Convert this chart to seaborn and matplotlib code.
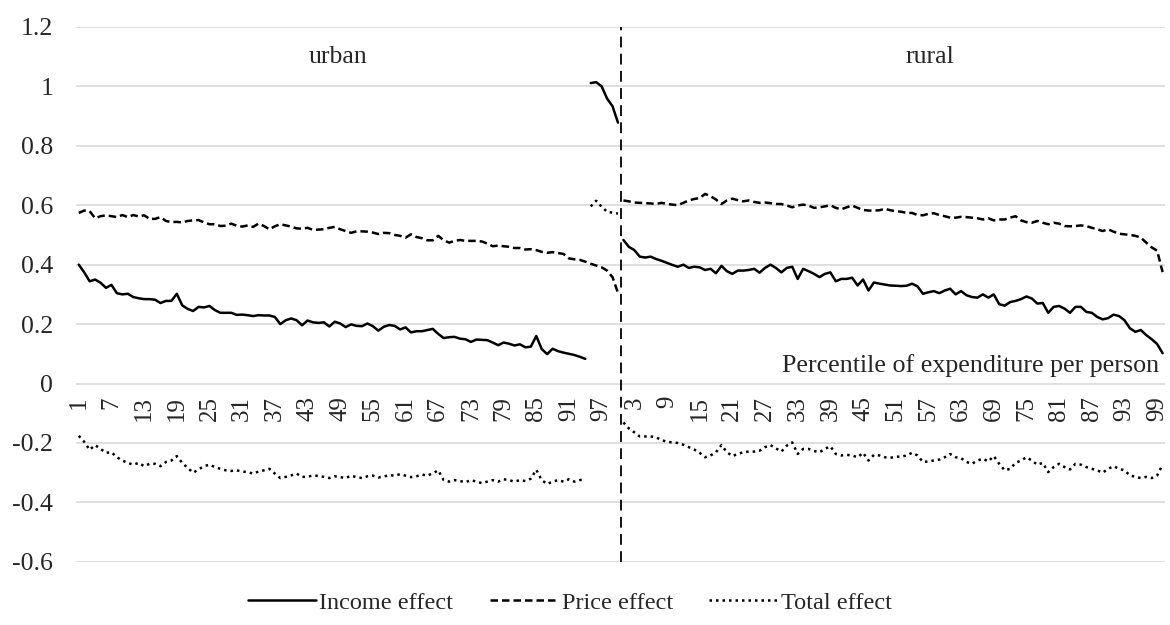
import pandas as pd
import seaborn as sns
import matplotlib.pyplot as plt

# ===============================
# Datos
# ===============================
percentiles = list(range(1, 101))

urban_income = [
    0.400, 0.374, 0.344, 0.350, 0.339, 0.322, 0.332, 0.304, 0.300, 0.302,
    0.291, 0.287, 0.284, 0.284, 0.282, 0.271, 0.278, 0.278, 0.302, 0.263,
    0.251, 0.244, 0.258, 0.256, 0.261, 0.247, 0.238, 0.238, 0.238, 0.231,
    0.232, 0.230, 0.227, 0.230, 0.229, 0.229, 0.224, 0.200, 0.213, 0.219,
    0.213, 0.196, 0.212, 0.206, 0.204, 0.206, 0.192, 0.208, 0.202, 0.190,
    0.199, 0.194, 0.193, 0.202, 0.193, 0.178, 0.191, 0.197, 0.194, 0.182,
    0.189, 0.172, 0.176, 0.176, 0.180, 0.184, 0.167, 0.153, 0.156, 0.157,
    0.151, 0.149, 0.140, 0.148, 0.147, 0.146, 0.138, 0.129, 0.138, 0.134,
    0.128, 0.132, 0.122, 0.124, 0.160, 0.116, 0.099, 0.117, 0.109, 0.104,
    0.100, 0.096, 0.090, 0.083,
]
urban_income_top = [1.011, 1.014, 1.000, 0.959, 0.933, 0.878]  # pct 95-100

urban_price = [
    0.574, 0.582, 0.580, 0.556, 0.563, 0.566, 0.563, 0.560, 0.567, 0.560,
    0.567, 0.562, 0.566, 0.554, 0.554, 0.560, 0.547, 0.543, 0.544, 0.542,
    0.547, 0.549, 0.550, 0.542, 0.536, 0.536, 0.530, 0.531, 0.538, 0.531,
    0.528, 0.532, 0.527, 0.538, 0.530, 0.519, 0.529, 0.536, 0.532, 0.528,
    0.522, 0.521, 0.524, 0.517, 0.518, 0.519, 0.524, 0.527, 0.519, 0.513,
    0.507, 0.512, 0.512, 0.511, 0.508, 0.503, 0.507, 0.506, 0.500, 0.497,
    0.491, 0.502, 0.493, 0.489, 0.482, 0.482, 0.497, 0.482, 0.474, 0.480,
    0.483, 0.480, 0.480, 0.480, 0.478, 0.471, 0.462, 0.464, 0.462, 0.460,
    0.456, 0.456, 0.451, 0.452, 0.449, 0.443, 0.440, 0.442, 0.439, 0.436,
    0.421, 0.418, 0.416, 0.410, 0.403, 0.397, 0.391, 0.380, 0.358, 0.305,
]

urban_total = [
    -0.176, -0.196, -0.223, -0.207, -0.220, -0.233, -0.231, -0.248, -0.259, -0.267,
    -0.273, -0.267, -0.278, -0.270, -0.270, -0.278, -0.264, -0.259, -0.244, -0.267,
    -0.284, -0.300, -0.289, -0.278, -0.273, -0.281, -0.287, -0.292, -0.294, -0.292,
    -0.296, -0.298, -0.303, -0.296, -0.292, -0.287, -0.303, -0.318, -0.314, -0.309,
    -0.303, -0.314, -0.314, -0.309, -0.311, -0.314, -0.318, -0.312, -0.315, -0.318,
    -0.310, -0.315, -0.318, -0.312, -0.310, -0.316, -0.313, -0.308, -0.310, -0.305,
    -0.310, -0.315, -0.312, -0.306, -0.310, -0.302, -0.292, -0.325, -0.330, -0.325,
    -0.328, -0.332, -0.325, -0.330, -0.335, -0.330, -0.325, -0.330, -0.322, -0.325,
    -0.330, -0.325, -0.328, -0.320, -0.290, -0.325, -0.338, -0.330, -0.325, -0.330,
    -0.322, -0.330, -0.325, -0.322,
]
urban_total_top = [0.596, 0.615, 0.595, 0.578, 0.575, 0.572]  # pct 95-100

rural_income = [
    0.483, 0.460, 0.449, 0.427, 0.424, 0.427, 0.419, 0.413, 0.406, 0.399,
    0.393, 0.400, 0.389, 0.393, 0.391, 0.382, 0.386, 0.371, 0.396, 0.378,
    0.369, 0.380, 0.380, 0.382, 0.386, 0.373, 0.389, 0.400, 0.389, 0.374,
    0.389, 0.393, 0.352, 0.386, 0.378, 0.369, 0.358, 0.369, 0.374, 0.344,
    0.352, 0.352, 0.356, 0.330, 0.350, 0.313, 0.340, 0.336, 0.333, 0.330,
    0.329, 0.328, 0.329, 0.336, 0.327, 0.302, 0.307, 0.311, 0.304, 0.313,
    0.319, 0.300, 0.311, 0.297, 0.291, 0.289, 0.300, 0.289, 0.300, 0.267,
    0.262, 0.274, 0.278, 0.284, 0.293, 0.286, 0.269, 0.271, 0.238, 0.258,
    0.261, 0.252, 0.238, 0.258, 0.258, 0.241, 0.238, 0.224, 0.216, 0.220,
    0.232, 0.227, 0.213, 0.186, 0.174, 0.180, 0.163, 0.149, 0.133, 0.102,
]

rural_price = [
    0.616, 0.613, 0.609, 0.608, 0.607, 0.606, 0.604, 0.608, 0.604, 0.602,
    0.600, 0.608, 0.616, 0.621, 0.624, 0.638, 0.630, 0.619, 0.604, 0.616,
    0.622, 0.617, 0.613, 0.616, 0.611, 0.608, 0.609, 0.607, 0.604, 0.604,
    0.599, 0.593, 0.599, 0.602, 0.599, 0.591, 0.593, 0.596, 0.600, 0.591,
    0.586, 0.593, 0.599, 0.591, 0.584, 0.582, 0.582, 0.583, 0.588, 0.583,
    0.580, 0.578, 0.574, 0.574, 0.567, 0.566, 0.571, 0.573, 0.567, 0.563,
    0.558, 0.558, 0.561, 0.560, 0.558, 0.556, 0.552, 0.556, 0.549, 0.552,
    0.552, 0.558, 0.563, 0.549, 0.543, 0.541, 0.547, 0.541, 0.536, 0.541,
    0.538, 0.530, 0.529, 0.530, 0.532, 0.530, 0.524, 0.519, 0.513, 0.519,
    0.511, 0.504, 0.502, 0.500, 0.497, 0.491, 0.474, 0.458, 0.447, 0.375,
]

rural_total = [
    -0.131, -0.151, -0.164, -0.178, -0.178, -0.178, -0.181, -0.190, -0.196, -0.198,
    -0.200, -0.206, -0.214, -0.222, -0.233, -0.248, -0.242, -0.231, -0.207, -0.231,
    -0.244, -0.237, -0.231, -0.229, -0.229, -0.226, -0.214, -0.207, -0.218, -0.229,
    -0.209, -0.198, -0.237, -0.220, -0.220, -0.227, -0.231, -0.220, -0.211, -0.237,
    -0.242, -0.240, -0.242, -0.248, -0.233, -0.259, -0.240, -0.242, -0.248, -0.250,
    -0.246, -0.246, -0.242, -0.233, -0.242, -0.264, -0.262, -0.259, -0.256, -0.248,
    -0.237, -0.248, -0.251, -0.264, -0.270, -0.259, -0.253, -0.262, -0.244, -0.270,
    -0.292, -0.287, -0.267, -0.259, -0.248, -0.259, -0.273, -0.267, -0.298, -0.281,
    -0.270, -0.281, -0.289, -0.270, -0.273, -0.281, -0.287, -0.292, -0.300, -0.287,
    -0.278, -0.287, -0.292, -0.309, -0.314, -0.318, -0.314, -0.318, -0.309, -0.273,
]

effects = ["Income effect", "Price effect", "Total effect"]
y_ticks = [-0.6, -0.4, -0.2, 0, 0.2, 0.4, 0.6, 0.8, 1, 1.2]
y_labels = ["-0.6", "-0.4", "-0.2", "0", "0.2", "0.4", "0.6", "0.8", "1", "1.2"]

# ===============================
# Tabla larga: urbano en 0..99, rural en 100..199
# ===============================
tramos = [
    ("Income effect", "inc_u", 0, urban_income),
    ("Income effect", "inc_u_top", 94, urban_income_top),
    ("Income effect", "inc_r", 100, rural_income),
    ("Price effect", "pri_u", 0, urban_price),
    ("Price effect", "pri_r", 100, rural_price),
    ("Total effect", "tot_u", 0, urban_total),
    ("Total effect", "tot_u_top", 94, urban_total_top),
    ("Total effect", "tot_r", 100, rural_total),
]
filas = []
for efecto, seg, inicio, valores in tramos:
    for k, v in enumerate(valores):
        filas.append({"pos": inicio + k, "value": v, "effect": efecto, "segment": seg})
df = pd.DataFrame(filas)

tick_labels = [str(p) for p in percentiles] * 2

# ===============================
# Gráfico
# ===============================
sns.set_theme(style="white")
plt.rcParams["font.family"] = ["Liberation Serif", "DejaVu Serif"]
plt.rcParams["font.size"] = 17

fig, ax = plt.subplots(figsize=(11.7, 6.25), dpi=100)
fig.subplots_adjust(left=0.065, right=0.996, top=0.957, bottom=0.101)

sns.lineplot(
    data=df, x="pos", y="value", style="effect", units="segment",
    estimator=None, color="black", linewidth=1.8, style_order=effects,
    dashes={"Income effect": "", "Price effect": (3, 1.6), "Total effect": (1, 1.6)},
    ax=ax,
)

ax.axvline(99.5, color="black", linewidth=1.3, dashes=(6, 3.5))

# eje x cruzando en y = 0 (antes de poner las etiquetas)
ax.spines["bottom"].set_position(("data", 0))
for s in ["top", "right", "left", "bottom"]:
    ax.spines[s].set_visible(False)

ax.set_xlim(-0.5, 199.5)
ax.set_ylim(-0.6, 1.2)
ax.set_yticks(y_ticks)
ax.set_yticklabels(y_labels)
ax.set_xticks(range(0, 200, 6))
ax.set_xticklabels(tick_labels[::6])
ax.tick_params(axis="x", length=0, pad=9, labelsize=18, labelrotation=90)
ax.tick_params(axis="y", length=0, pad=16.5, labelsize=18.5)
ax.yaxis.grid(True, color="#d9d9d9", linewidth=1.2)
ax.set_axisbelow(True)
ax.set_xlabel("")
ax.set_ylabel("")

ax.text(47.6, 1.097, "urban", ha="center", va="center", fontsize=18.5)
ax.text(156.3, 1.097, "rural", ha="center", va="center", fontsize=18.5)
ax.text(198.3, 0.062, "Percentile of expenditure per person",
        ha="right", va="center", fontsize=18.7)

sns.move_legend(
    ax, "center", bbox_to_anchor=(0.487, 0.036), bbox_transform=fig.transFigure,
    ncol=3, frameon=False, title=None, fontsize=17.5, handlelength=2.8,
    columnspacing=1.5, handletextpad=0.15,
)

plt.savefig("out.png", dpi=100)
